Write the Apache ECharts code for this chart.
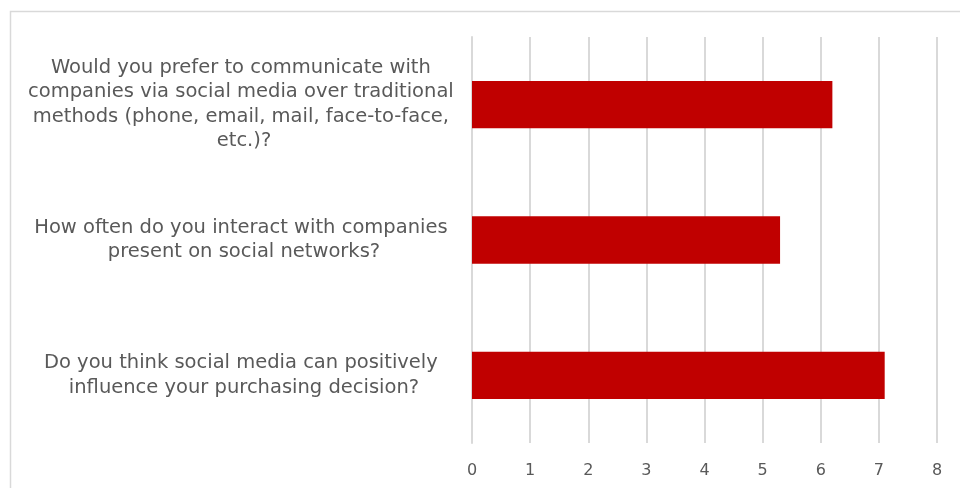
<!DOCTYPE html>
<html>
<head>
<meta charset="utf-8">
<script src="https://cdn.jsdelivr.net/npm/echarts@6/dist/echarts.min.js"></script>
<style>
  html, body { margin: 0; padding: 0; background: #ffffff; }
  #chart { width: 960px; height: 488px; }
</style>
</head>
<body>
<div id="chart"></div>
<script>
// Survey questions (top to bottom) and their average scores
const questions = [
  'Would you prefer to communicate with companies via social media over traditional methods (phone, email, mail, face-to-face, etc.)?',
  'How often do you interact with companies present on social networks?',
  'Do you think social media can positively influence your purchasing decision?'
];
const scores = [6.2, 5.3, 7.1];
const tickMin = 0;
const tickMax = 8;
const tickStep = 1;

const textColor = '#595959';
const gridColor = '#d9d9d9';
const labelFont = '"DejaVu Sans", sans-serif';

const chart = echarts.init(document.getElementById('chart'), null, { renderer: 'canvas' });

chart.setOption({
  backgroundColor: '#ffffff',
  animation: false,
  graphic: [{
    type: 'rect',
    shape: { x: 10.5, y: 11.5, width: 1000, height: 600 },
    style: { fill: 'none', stroke: gridColor, lineWidth: 1.5 },
    silent: true
  }],
  grid: { left: 472, right: 23, top: 37, bottom: 45, containLabel: false },
  xAxis: {
    type: 'value',
    min: tickMin,
    max: tickMax,
    interval: tickStep,
    axisLine: { show: false },
    axisTick: { show: false },
    splitLine: { show: true, lineStyle: { color: gridColor, width: 2 } },
    axisLabel: { color: textColor, fontSize: 16, fontFamily: labelFont, margin: 20 }
  },
  yAxis: {
    type: 'category',
    data: questions,
    inverse: true,
    axisLine: { show: true, lineStyle: { color: gridColor, width: 2 } },
    axisTick: { show: false },
    axisLabel: {
      color: textColor,
      fontSize: 19.5,
      fontFamily: labelFont,
      lineHeight: 24.5,
      width: 440,
      overflow: 'break',
      align: 'center',
      margin: 228
    }
  },
  series: [{
    type: 'bar',
    data: scores,
    barWidth: '35%',
    itemStyle: { color: '#C00000' }
  }]
});
</script>
</body>
</html>
